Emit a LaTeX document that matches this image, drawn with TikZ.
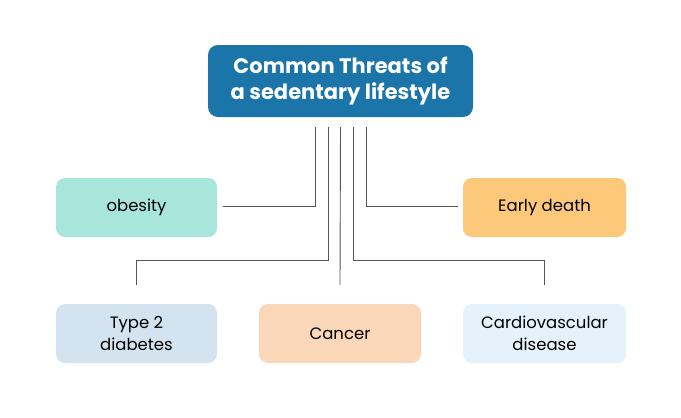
\documentclass[tikz,border=0pt]{standalone}
\usepackage{fontspec}
\setmainfont{Poppins}
\usetikzlibrary{calc}
\definecolor{titleblue}{HTML}{1B75A8}
\definecolor{cobesity}{HTML}{A8E6DC}
\definecolor{cearly}{HTML}{FCC97B}
\definecolor{ctype}{HTML}{D3E4F0}
\definecolor{ccancer}{HTML}{FBD7B9}
\definecolor{ccardio}{HTML}{E6F2FB}
\definecolor{linegray}{HTML}{555555}
\begin{document}
\begin{tikzpicture}[x=1pt,y=-1pt,
  box/.style={rectangle,rounded corners=9pt,minimum width=161pt,minimum height=59pt,
    align=center,font=\fontsize{16.5}{22}\selectfont,text=black,inner sep=0pt},
  conn/.style={draw=linegray,line width=0.9pt}]
\useasboundingbox (0,0) rectangle (681,418);
\node[rectangle,rounded corners=10pt,fill=titleblue,minimum width=265pt,minimum height=72pt,
  align=center,text=white,font=\fontsize{21}{25.5}\selectfont\bfseries,inner sep=0pt]
  (title) at (340.5,81) {Common Threats of\\a sedentary lifestyle};
\node[box,fill=cobesity] (obesity) at (136.5,207.5) {obesity};
\node[box,fill=cearly,minimum width=163pt] (early) at (544.5,207.5) {Early death};
\node[box,fill=ctype] (type2) at (136.5,333.5) {Type 2\\diabetes};
\node[box,fill=ccancer,minimum width=162pt] (cancer) at (340,333.5) {Cancer};
\node[box,fill=ccardio,minimum width=163pt] (cardio) at (544.5,333.5) {Cardiovascular\\disease};
\coordinate (jy) at (0,260);
\coordinate (t2end) at ([yshift=19pt]type2.north);
\coordinate (cdend) at ([yshift=19pt]cardio.north);
\draw[conn] ([xshift=-25.5pt,yshift=-10pt]title.south) |- ([xshift=6pt,yshift=1.5pt]obesity.east);
\draw[conn] ([xshift=-12.5pt,yshift=-10pt]title.south) |- (jy -| t2end) -- (t2end);
\draw[conn] ([yshift=-10pt]title.south) -- ([yshift=19pt]cancer.north);
\draw[conn] ([xshift=12.5pt,yshift=-10pt]title.south) |- (jy -| cdend) -- (cdend);
\draw[conn] ([xshift=25.5pt,yshift=-10pt]title.south) |- ([xshift=-5pt,yshift=1.5pt]early.west);
\end{tikzpicture}
\end{document}
